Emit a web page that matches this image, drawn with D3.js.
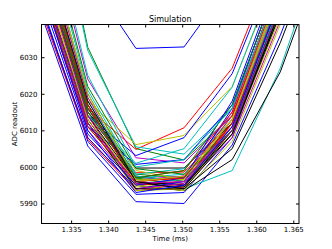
<!DOCTYPE html>
<html><head><meta charset="utf-8">
<script src="https://cdn.jsdelivr.net/npm/d3@7"></script>
<style>body{margin:0;background:#fff}svg{display:block}text{font-family:"DejaVu Sans",sans-serif;fill:#000}</style>
</head><body><svg id="c" width="332" height="249"></svg>
<script>
const times = [1.33075, 1.33725, 1.34375, 1.35025, 1.35675, 1.36325, 1.36975];
const xTicks = [1.335, 1.340, 1.345, 1.350, 1.355, 1.360, 1.365];
const yTicks = [5990, 6000, 6010, 6020, 6030];
const colors = ["#0000ff", "#008000", "#ff0000", "#00bfbf", "#bf00bf", "#bfbf00", "#000000"];
const series = [
  [6043, 6005.7, 5990.5, 5990.0, 6006, 6036, 6070],
  [6052, 6011, 5995.5, 5996.5, 6010, 6043, 6080],
  [6045, 6008, 5994, 5995, 6013, 6049, 6085],
  [6058, 6015, 5997, 5998, 6014, 6050, 6085],
  [6050, 6010, 5995, 5996, 6012, 6047, 6085],
  [6055, 6013, 5994.5, 5995.5, 6011, 6046, 6080],
  [6060, 6016, 5997.5, 5996, 6010, 6043, 6080],
  [6046, 6007, 5992.5, 5993, 6008, 6044, 6080],
  [6096, 6032.7, 6005, 6001.9, 6014, 6048, 6085],
  [6055, 6016, 6004.8, 6010.7, 6027, 6060, 6095],
  [6094, 6031.8, 6005.5, 6003.5, 6016, 6050, 6085],
  [6075, 6024, 6002.5, 6001.1, 6014, 6048, 6085],
  [6060, 6018, 6006.1, 6008.6, 6022, 6055, 6090],
  [6058, 6015, 5999.7, 5999.7, 6012, 6046, 6080],
  [6090, 6052, 6032.4, 6032.8, 6051, 6090, 6120],
  [6062, 6017, 5998, 5997, 6011, 6044, 6080],
  [6056, 6014, 5998.4, 5998.6, 6011, 6045, 6080],
  [6050, 6012, 5996, 5994, 5999, 6027, 6065],
  [6054, 6012, 5996.5, 5997.5, 6013, 6048, 6085],
  [6064, 6019, 5999, 5996.5, 6009, 6041, 6080],
  [6052, 6013, 5995, 5993.5, 6002, 6026, 6062],
  [6052, 6014, 6003.1, 6008, 6025.5, 6058, 6090],
  [6066, 6020, 5997, 5995, 6010, 6042, 6080],
  [6044, 6007.5, 5993.5, 5994.5, 6012, 6047, 6085],
  [6057, 6014, 6001, 6005, 6021.8, 6056, 6090],
  [6060, 6016, 5996, 5995, 6008, 6040, 6075],
  [6053, 6012, 5993.5, 5994, 6010, 6044, 6080],
  [6062, 6017, 5995.5, 5994.5, 6010, 6045, 6080],
  [6050, 6011, 6000.7, 6002, 6017, 6052, 6085],
  [6058, 6015, 5996.5, 5997, 6012, 6046, 6080],
  [6061, 6017, 5995, 5996, 6012, 6047, 6080],
  [6070, 6021, 5998, 5999.5, 6013, 6047, 6080],
  [6064, 6019, 5996, 5997.5, 6015, 6051, 6085],
  [6056, 6014, 5995, 5993.5, 6007, 6039, 6075],
  [6057, 6014, 5996, 5995, 6009, 6042, 6078],
  [6045, 6008, 5994, 5996, 6016, 6053, 6085],
  [6072, 6022, 5999.5, 5998, 6010, 6043, 6080],
  [6059, 6016, 5997, 5999, 6015, 6051, 6085],
  [6062, 6018, 5997.5, 5996, 6011, 6045, 6080],
  [6057, 6014, 5994, 5995.5, 6010, 6044, 6080],
  [6066, 6020, 5996.5, 5996.5, 6013, 6048, 6085],
  [6053, 6012, 5994, 5994, 6009, 6043, 6080],
  [6048, 6009, 5995, 5997, 6018, 6054, 6088],
  [6060, 6016, 5997, 5999, 6017, 6052, 6085],
  [6051, 6011, 5996, 5997, 6014, 6050, 6085],
  [6078, 6025, 6000, 6002, 6016, 6050, 6085],
  [6053, 6012, 5995.5, 5996, 6011, 6046, 6080],
  [6055, 6013, 5996, 5997.5, 6013, 6049, 6085],
  [6062, 6018, 5996, 5994, 6005, 6034, 6068],
  [6050, 6010, 5993, 5995, 6011, 6046, 6080]
];

const L = 41.5, R = 299, T = 24.5, B = 223.5;
const svg = d3.select("#c");
const x = d3.scaleLinear().domain([1.3310, 1.36577]).range([L, R]);
const y = d3.scaleLinear().domain([5984.53, 6038.94]).range([B, T]);

svg.append("defs").append("clipPath").attr("id", "clip")
  .append("rect").attr("x", L).attr("y", T).attr("width", R - L).attr("height", B - T);

const line = d3.line().x((d, i) => x(times[i])).y(d => y(d));
svg.append("g").attr("clip-path", "url(#clip)")
  .selectAll("path").data(series).join("path")
  .attr("d", line).attr("fill", "none")
  .attr("stroke", (d, i) => colors[i % colors.length])
  .attr("stroke-width", 1);

// frame
svg.append("rect").attr("x", L).attr("y", T).attr("width", R - L).attr("height", B - T)
  .attr("fill", "none").attr("stroke", "#000").attr("stroke-width", 1);

// axes with inward ticks on all sides
const fmtX = d3.format(".3f");
const gx = svg.append("g").attr("transform", `translate(0,${B})`)
  .call(d3.axisBottom(x).tickValues(xTicks).tickFormat(fmtX).tickSize(-3).tickPadding(3.5));
const gxt = svg.append("g").attr("transform", `translate(0,${T})`)
  .call(d3.axisTop(x).tickValues(xTicks).tickFormat("").tickSize(-3));
const gy = svg.append("g").attr("transform", `translate(${L},0)`)
  .call(d3.axisLeft(y).tickValues(yTicks).tickFormat(d3.format("d")).tickSize(-3).tickPadding(4));
const gyr = svg.append("g").attr("transform", `translate(${R},0)`)
  .call(d3.axisRight(y).tickValues(yTicks).tickFormat("").tickSize(-3));
[gx, gxt, gy, gyr].forEach(g => {
  g.select(".domain").remove();
  g.selectAll("text").attr("font-size", 7).attr("font-family", "DejaVu Sans, sans-serif");
  g.selectAll("line").attr("stroke", "#000");
});

svg.append("text").attr("x", (L + R) / 2).attr("y", 21.5).attr("text-anchor", "middle")
  .attr("font-size", 8).text("Simulation");
svg.append("text").attr("x", (L + R) / 2).attr("y", 240.5).attr("text-anchor", "middle")
  .attr("font-size", 7).text("Time (ms)");
svg.append("text").attr("transform", `translate(16.5,${(T + B) / 2}) rotate(-90)`).attr("text-anchor", "middle")
  .attr("font-size", 7).text("ADC readout");
</script></body></html>
